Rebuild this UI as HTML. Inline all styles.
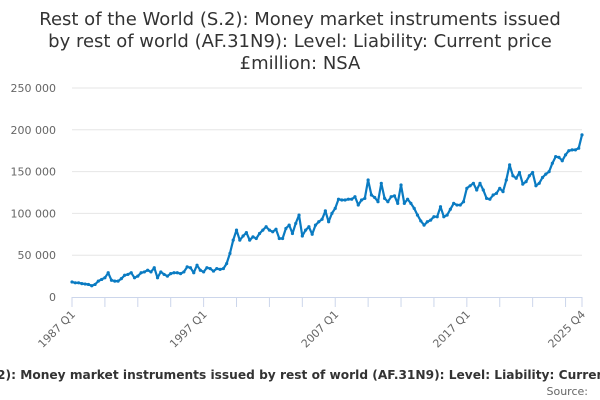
<!DOCTYPE html>
<html><head><meta charset="utf-8"><style>
body{margin:0;background:#fff;width:600px;height:400px;overflow:hidden;font-family:"DejaVu Sans","Liberation Sans",sans-serif}
svg{display:block}
</style></head><body>
<svg id="chart" width="600" height="400" xmlns="http://www.w3.org/2000/svg">
<text x="300" y="25" text-anchor="middle" font-size="18" fill="#333"><tspan x="300">Rest of the World (S.2): Money market instruments issued</tspan><tspan x="300" dy="22">by rest of world (AF.31N9): Level: Liability: Current price</tspan><tspan x="300" dy="22">£million: NSA</tspan></text>
<g id="grid"></g><g id="yt"></g><g id="xt"></g><g id="series"></g>
<text x="300" y="379" text-anchor="middle" font-size="12.2" font-weight="bold" fill="#333">Rest of the World (S.2): Money market instruments issued by rest of world (AF.31N9): Level: Liability: Current price £million: NSA</text>
<text x="588" y="395" text-anchor="end" font-size="11" fill="#666">Source:</text>
</svg>
<script>
const values=[18,17,17,16,15.5,15,13.5,15,19,21,23,29,20,19,19,22,26,27,29,23,25,29,30,32,30,35,23,30,27,25,28,29,29,28,30,36,35,29,38,32,
30,35,34,31,34,33,34,40,52,68,80,68,73,77,68,72,70,76,80,84,80,78,81,70,70,82,86,76,88,98,73,80,84,75,86,90,93,103,90,100,
106,117,116,116,117,117,120,110,116,118,140,122,119,114,136,118,114,120,121,112,134,112,117,112,106,98,91,86,90,92,96,96,108,96,98,105,112,110,110,114,
130,133,136,128,136,128,118,117,122,124,130,126,140,158,145,142,149,135,138,145,149,133,136,143,147,150,160,168,167,163,170,175,176,176,178,194];
const yTicks=[0,50000,100000,150000,200000,250000];
const yTickLabels=["0","50 000","100 000","150 000","200 000","250 000"];
const xLabels=["1987 Q1","1997 Q1","2007 Q1","2017 Q1","2025 Q4"];
const xLabelIdx=[0,40,80,120,155];
const NS="http://www.w3.org/2000/svg";
const L=72,R=582,T=88,B=297,N=values.length;
const xs=i=>L+i*(R-L)/(N-1);
const ys=v=>B-v/250000*(B-T);
function mk(tag,attrs,parent){const e=document.createElementNS(NS,tag);for(const k in attrs)e.setAttribute(k,attrs[k]);document.getElementById(parent).appendChild(e);return e;}
yTicks.forEach((t,k)=>{
 if(t>0){const g=mk('line',{x1:L,x2:R,y1:ys(t),y2:ys(t),stroke:'#e6e6e6','stroke-width':1},'grid');
 
 }
 const tx=mk('text',{x:56,y:ys(t)+4,'text-anchor':'end','font-size':11,fill:'#666'},'yt');tx.textContent=yTickLabels[k];
 
 
});
const ax=mk('line',{x1:L,x2:R,y1:B+0.5,y2:B+0.5,stroke:'#ccd6eb','stroke-width':1},'xt');


for(let i=0;i<N;i+=10){const tk=mk('line',{x1:xs(i),x2:xs(i),y1:B,y2:B+10,stroke:'#ccd6eb'},'xt');
 
 }
const tkl=mk('line',{x1:R,x2:R,y1:B,y2:B+10,stroke:'#ccd6eb'},'xt');


xLabels.forEach((s,k)=>{const x=xs(xLabelIdx[k])+4,y=B+18;
 const t=mk('text',{x:x,y:y,'text-anchor':'end','font-size':11,fill:'#666',transform:`rotate(-45 ${x} ${y})`},'xt');t.textContent=s;
 
 });
const p=mk('path',{d:values.map((v,i)=>(i?'L':'M')+xs(i).toFixed(1)+' '+ys(v*1000).toFixed(1)).join(''),fill:'none',stroke:'#0a7bc2','stroke-width':2.2,'stroke-linejoin':'round'},'series');


values.forEach((v,i)=>{const c=mk('circle',{cx:xs(i),cy:ys(v*1000),r:1.6,fill:'#0a7bc2'},'series');
 
 });
</script>
</body></html>
